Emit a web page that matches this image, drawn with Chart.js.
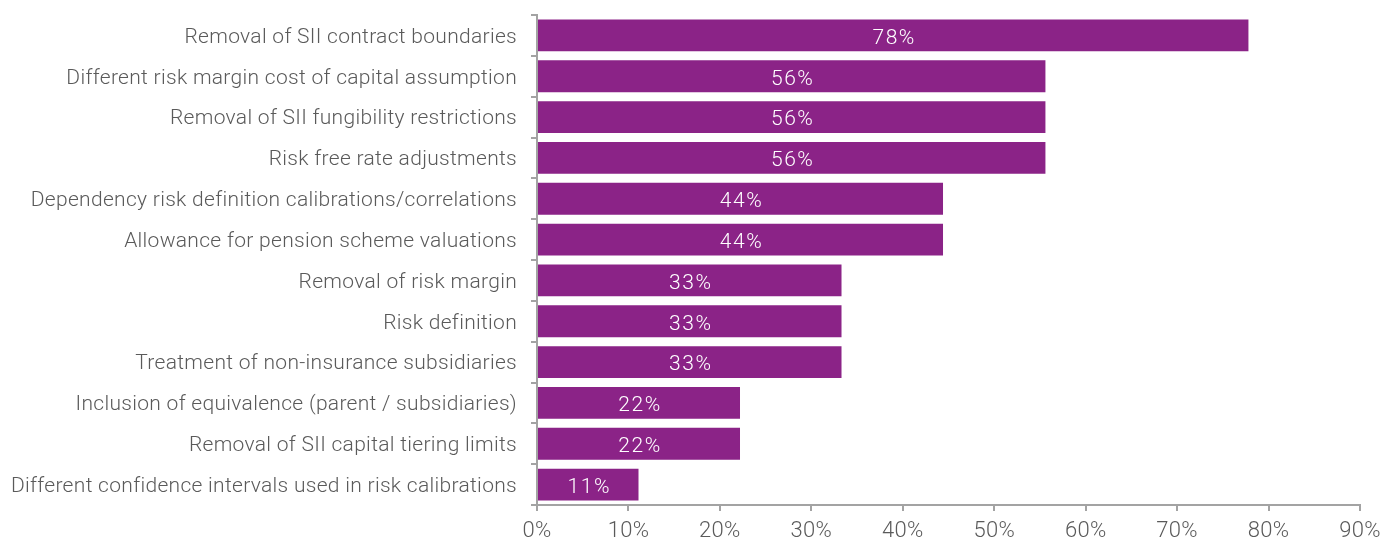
<!DOCTYPE html>
<html>
<head>
<meta charset="utf-8">
<script src="https://cdn.jsdelivr.net/npm/chart.js@4"></script>
<style>
  html, body { margin: 0; padding: 0; background: #fff; }
  #wrap { width: 1382px; height: 542px; }
</style>
</head>
<body>
<div id="wrap"><canvas id="mygraph" width="1382" height="542"></canvas></div>
<script>
const categories = [
  'Removal of SII contract boundaries',
  'Different risk margin cost of capital assumption',
  'Removal of SII fungibility restrictions',
  'Risk free rate adjustments',
  'Dependency risk definition calibrations/correlations',
  'Allowance for pension scheme valuations',
  'Removal of risk margin',
  'Risk definition',
  'Treatment of non-insurance subsidiaries',
  'Inclusion of equivalence (parent / subsidiaries)',
  'Removal of SII capital tiering limits',
  'Different confidence intervals used in risk calibrations'
]
const shares = [77.8, 55.6, 55.6, 55.6, 44.4, 44.4, 33.3, 33.3, 33.3, 22.2, 22.2, 11.1]
const xTicks = [0, 10, 20, 30, 40, 50, 60, 70, 80, 90]

const purple = '#8b2387'
const grey = '#5a5a5a'
const axisGrey = '#a3a3a3'
const fontFamily = 'Roboto, "Liberation Sans", sans-serif'

// slightly looser tracking for all canvas text
const tracking = {
  id: 'tracking',
  beforeUpdate(chart) { chart.ctx.letterSpacing = '0.3px' },
  beforeDraw(chart) { chart.ctx.letterSpacing = '0.3px' }
}

// white percentage text in the middle of each bar
const barLabels = {
  id: 'barLabels',
  afterDatasetsDraw(chart) {
    const ctx = chart.ctx
    const meta = chart.getDatasetMeta(0)
    ctx.save()
    ctx.fillStyle = '#fff'
    ctx.font = '300 21px ' + fontFamily
    ctx.letterSpacing = '1.5px'
    ctx.textAlign = 'center'
    ctx.textBaseline = 'middle'
    meta.data.forEach((bar, i) => {
      const x = (bar.base + bar.x) / 2
      ctx.fillText(Math.round(shares[i]) + '%', x + 1, bar.y + 3)
    })
    ctx.restore()
  }
}

const ctx = document.getElementById('mygraph').getContext('2d')
new Chart(ctx, {
  type: 'bar',
  data: {
    labels: categories,
    datasets: [{
      data: shares,
      backgroundColor: purple,
      borderWidth: 0,
      categoryPercentage: 0.78,
      barPercentage: 1
    }]
  },
  plugins: [tracking, barLabels],
  options: {
    indexAxis: 'y',
    responsive: false,
    animation: false,
    layout: { padding: { top: 15, right: 22, left: 0, bottom: 0 } },
    plugins: {
      legend: { display: false },
      tooltip: { enabled: false }
    },
    scales: {
      x: {
        min: 0,
        max: 90,
        afterBuildTicks: (axis) => { axis.ticks = xTicks.map(v => ({ value: v })) },
        afterFit: (axis) => {
          axis.height = 37
          axis.paddingLeft = 0
          axis.paddingRight = 0
        },
        border: { color: axisGrey, width: 2 },
        grid: { drawOnChartArea: false, drawTicks: true, tickLength: 6, color: axisGrey, lineWidth: 2 },
        ticks: {
          color: grey,
          padding: 7,
          maxRotation: 0,
          font: { family: fontFamily, size: 22, weight: 300 },
          callback: (v) => v + '%'
        }
      },
      y: {
        afterFit: (axis) => {
          axis.width = 537
          axis.paddingTop = 0
          axis.paddingBottom = 0
        },
        border: { color: axisGrey, width: 2 },
        grid: { offset: true, drawOnChartArea: false, drawTicks: true, tickLength: 6, color: axisGrey, lineWidth: 2 },
        ticks: {
          color: grey,
          padding: 14,
          labelOffset: 2,
          autoSkip: false,
          font: { family: fontFamily, size: 21, weight: 300 }
        }
      }
    }
  }
})
</script>
</body>
</html>
